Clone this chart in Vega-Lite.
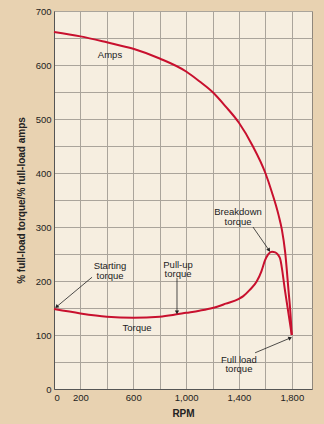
{
  "$schema": "https://vega.github.io/schema/vega-lite/v6.json",
  "width": 258,
  "height": 378,
  "autosize": {"type": "none"},
  "padding": {"left": 54, "top": 11, "right": 12, "bottom": 35},
  "background": "#e8d2b1",
  "config": {
    "view": {"fill": "#f6eee0", "stroke": "#8f877c", "strokeWidth": 1},
    "font": "Liberation Sans",
    "axis": {
      "labelFont": "Liberation Sans",
      "titleFont": "Liberation Sans",
      "labelFontSize": 9.5,
      "labelColor": "#222222",
      "titleColor": "#222222",
      "titleFontSize": 10,
      "titleFontWeight": "bold",
      "ticks": false,
      "labelOverlap": false,
      "domainColor": "#555555",
      "domainWidth": 1,
      "gridColor": "#aaa49b",
      "gridWidth": 1,
      "gridOpacity": 1
    }
  },
  "datasets": {
    "curves": [
      {"series": "Amps", "rpm": 0, "value": 661},
      {"series": "Amps", "rpm": 200, "value": 653},
      {"series": "Amps", "rpm": 400, "value": 642},
      {"series": "Amps", "rpm": 600, "value": 630},
      {"series": "Amps", "rpm": 800, "value": 612},
      {"series": "Amps", "rpm": 1000, "value": 588},
      {"series": "Amps", "rpm": 1100, "value": 570},
      {"series": "Amps", "rpm": 1200, "value": 550},
      {"series": "Amps", "rpm": 1300, "value": 523},
      {"series": "Amps", "rpm": 1400, "value": 493},
      {"series": "Amps", "rpm": 1500, "value": 452},
      {"series": "Amps", "rpm": 1600, "value": 400},
      {"series": "Amps", "rpm": 1650, "value": 364},
      {"series": "Amps", "rpm": 1700, "value": 322},
      {"series": "Amps", "rpm": 1725, "value": 295},
      {"series": "Amps", "rpm": 1750, "value": 253},
      {"series": "Amps", "rpm": 1775, "value": 183},
      {"series": "Amps", "rpm": 1790, "value": 140},
      {"series": "Amps", "rpm": 1800, "value": 100},
      {"series": "Torque", "rpm": 0, "value": 148},
      {"series": "Torque", "rpm": 200, "value": 140},
      {"series": "Torque", "rpm": 400, "value": 134},
      {"series": "Torque", "rpm": 600, "value": 132},
      {"series": "Torque", "rpm": 800, "value": 134},
      {"series": "Torque", "rpm": 900, "value": 137},
      {"series": "Torque", "rpm": 1000, "value": 141},
      {"series": "Torque", "rpm": 1100, "value": 145},
      {"series": "Torque", "rpm": 1200, "value": 150},
      {"series": "Torque", "rpm": 1300, "value": 158},
      {"series": "Torque", "rpm": 1400, "value": 167},
      {"series": "Torque", "rpm": 1433, "value": 172},
      {"series": "Torque", "rpm": 1480, "value": 183},
      {"series": "Torque", "rpm": 1534, "value": 199},
      {"series": "Torque", "rpm": 1570, "value": 218},
      {"series": "Torque", "rpm": 1597, "value": 238},
      {"series": "Torque", "rpm": 1620, "value": 249},
      {"series": "Torque", "rpm": 1650, "value": 254},
      {"series": "Torque", "rpm": 1675, "value": 253},
      {"series": "Torque", "rpm": 1695, "value": 249},
      {"series": "Torque", "rpm": 1711, "value": 242},
      {"series": "Torque", "rpm": 1750, "value": 180},
      {"series": "Torque", "rpm": 1800, "value": 100}
    ],
    "labels": [
      {"rpm": 424, "value": 618, "text": "Amps", "kind": "single"},
      {"rpm": 628, "value": 113, "text": "Torque", "kind": "single"},
      {"rpm": 424, "value": 237, "text": "Starting\ntorque", "kind": "multi"},
      {"rpm": 939, "value": 239, "text": "Pull-up\ntorque", "kind": "multi"},
      {"rpm": 1393, "value": 337, "text": "Breakdown\ntorque", "kind": "multi"},
      {"rpm": 1400, "value": 63, "text": "Full load\ntorque", "kind": "multi"}
    ],
    "arrows": [
      {"id": "start", "rpm": 288, "value": 207, "rpm2": 23, "value2": 153},
      {"id": "pullup", "rpm": 931, "value": 206, "rpm2": 931, "value2": 143},
      {"id": "breakdown", "rpm": 1506, "value": 300, "rpm2": 1625, "value2": 258},
      {"id": "full", "rpm": 1522, "value": 67, "rpm2": 1784, "value2": 94}
    ],
    "heads": [
      {"id": "start", "rpm": 23, "value": 153},
      {"id": "pullup", "rpm": 931, "value": 143},
      {"id": "breakdown", "rpm": 1625, "value": 258},
      {"id": "full", "rpm": 1784, "value": 94}
    ]
  },
  "encoding": {
    "x": {
      "field": "rpm", "type": "quantitative",
      "scale": {"domain": [0, 1953], "nice": false, "zero": false},
      "axis": {
        "title": "RPM",
        "values": [0, 200, 400, 600, 800, 1000, 1200, 1400, 1600, 1800],
        "format": ",.0f",
        "labelExpr": "indexof([400, 800, 1200, 1600], datum.value) >= 0 ? '' : datum.label",
        "labelPadding": 3,
        "titlePadding": 7,
        "grid": true
      }
    },
    "y": {
      "field": "value", "type": "quantitative",
      "scale": {"domain": [0, 700], "nice": false},
      "axis": {
        "title": "% full-load torque/% full-load amps",
        "values": [0, 50, 100, 150, 200, 250, 300, 350, 400, 450, 500, 550, 600, 650, 700],
        "format": "d",
        "labelExpr": "datum.value % 100 == 0 ? datum.label : ''",
        "labelPadding": 3,
        "titlePadding": 9,
        "grid": true
      }
    }
  },
  "layer": [
    {
      "data": {"name": "curves"},
      "mark": {"type": "line", "interpolate": "monotone", "color": "#c8102e", "strokeWidth": 2},
      "encoding": {
        "detail": {"field": "series"}
      }
    },
    {
      "data": {"name": "arrows"},
      "mark": {"type": "rule", "color": "#222222", "strokeWidth": 0.8},
      "encoding": {
        "x2": {"field": "rpm2"},
        "y2": {"field": "value2"}
      }
    },
    {
      "data": {"name": "heads"},
      "transform": [{"filter": "datum.id == 'start'"}],
      "mark": {"type": "point", "shape": "triangle", "filled": true, "color": "#222222", "size": 18, "angle": 230, "opacity": 1},
      "encoding": {}
    },
    {
      "data": {"name": "heads"},
      "transform": [{"filter": "datum.id == 'pullup'"}],
      "mark": {"type": "point", "shape": "triangle", "filled": true, "color": "#222222", "size": 18, "angle": 180, "opacity": 1},
      "encoding": {}
    },
    {
      "data": {"name": "heads"},
      "transform": [{"filter": "datum.id == 'breakdown'"}],
      "mark": {"type": "point", "shape": "triangle", "filled": true, "color": "#222222", "size": 18, "angle": 146, "opacity": 1},
      "encoding": {}
    },
    {
      "data": {"name": "heads"},
      "transform": [{"filter": "datum.id == 'full'"}],
      "mark": {"type": "point", "shape": "triangle", "filled": true, "color": "#222222", "size": 18, "angle": 67, "opacity": 1},
      "encoding": {}
    },
    {
      "data": {"name": "labels"},
      "transform": [{"filter": "datum.kind == 'single'"}],
      "mark": {"type": "text", "fontSize": 9.5, "color": "#222222", "align": "center", "baseline": "middle"},
      "encoding": {
        "text": {"field": "text"}
      }
    },
    {
      "data": {"name": "labels"},
      "transform": [{"filter": "datum.kind == 'multi'"}],
      "mark": {"type": "text", "fontSize": 9.5, "color": "#222222", "align": "center", "baseline": "top", "lineBreak": "\n", "lineHeight": 9.5},
      "encoding": {
        "text": {"field": "text"}
      }
    }
  ]
}
